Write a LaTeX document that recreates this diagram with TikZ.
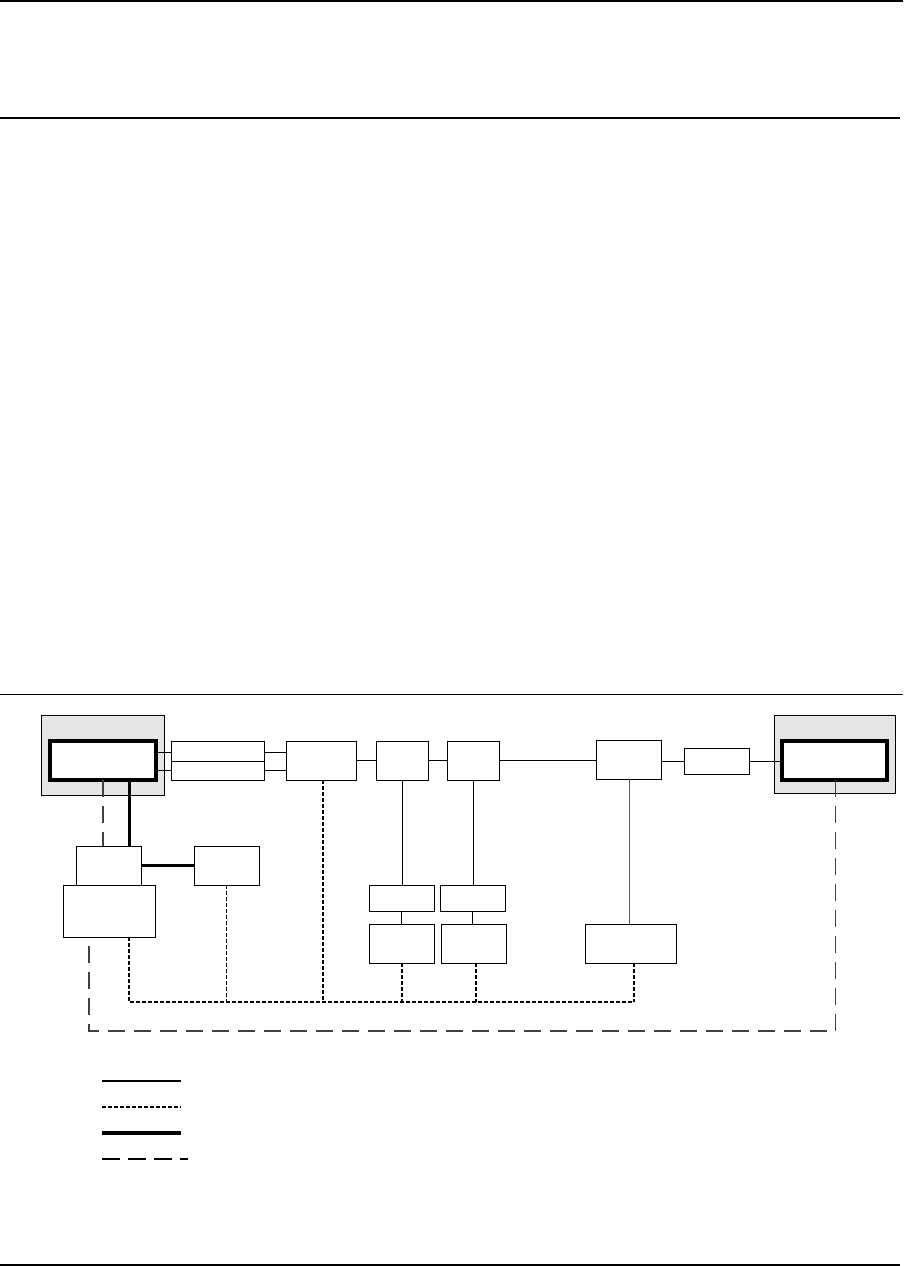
\documentclass[tikz,border=0pt]{standalone}
\begin{document}
\begin{tikzpicture}[x=1pt,y=-1pt,
  box/.style={draw=black,line width=1pt,fill=white,anchor=north west,inner sep=0pt,outer sep=0pt},
  grayb/.style={box,fill=black!10},
  thickb/.style={box,line width=3.5pt},
  thin/.style={line width=1pt},
  heavy/.style={line width=3pt},
  sdash/.style={line width=1.2pt,dash pattern=on 3.5pt off 2.5pt},
  sdashb/.style={line width=2pt,dash pattern=on 3.5pt off 2.5pt},
  ldash/.style={line width=1.2pt,draw=black!75,dash pattern=on 17pt off 9pt},
  rule/.style={line width=1pt}]
\useasboundingbox (0,0) rectangle (903,1266);
% page rules
\draw[rule,line width=2.5pt] (0,1) -- (903,1);
\draw[rule,line width=1.3pt] (0,118) -- (900,118);
\draw[rule] (0,694) -- (903,694);
\draw[rule,line width=1.5pt] (0,1265) -- (900,1265);
% nodes
\node[grayb,minimum width=123pt,minimum height=80pt] (LG) at (41,715) {};
\node[thickb,minimum width=106pt,minimum height=39pt] (LI) at (50,741) {};
\node[box,minimum width=93pt,minimum height=20pt] (S1) at (171,741) {};
\node[box,minimum width=93pt,minimum height=19pt] (S2) at (171,761) {};
\node[box,minimum width=70pt,minimum height=39pt] (B) at (286,741) {};
\node[box,minimum width=52pt,minimum height=39pt] (C) at (376,741) {};
\node[box,minimum width=52pt,minimum height=39pt] (D) at (447,741) {};
\node[box,minimum width=65pt,minimum height=39pt] (E) at (596,740) {};
\node[box,minimum width=65pt,minimum height=26pt] (F) at (684,748) {};
\node[grayb,minimum width=121pt,minimum height=78pt] (RG) at (774,715) {};
\node[thickb,minimum width=105pt,minimum height=39pt] (RI) at (782,741) {};
\node[box,minimum width=65pt,minimum height=39pt] (H) at (76,846) {};
\node[box,minimum width=92pt,minimum height=52pt] (I) at (63,885) {};
\node[box,minimum width=65pt,minimum height=39pt] (J) at (194,846) {};
\node[box,minimum width=65pt,minimum height=26pt] (K1) at (369,885) {};
\node[box,minimum width=65pt,minimum height=26pt] (K2) at (440,885) {};
\node[box,minimum width=65pt,minimum height=39pt] (L1) at (369,924) {};
\node[box,minimum width=65pt,minimum height=39pt] (L2) at (441,924) {};
\node[box,minimum width=91pt,minimum height=39pt] (M) at (585,924) {};
% solid connectors
\draw[thin] ([yshift=-1.5pt]LI.east |- S1) -- ([yshift=-1.5pt]S1.west);
\draw[thin] (LI.east |- S2) -- (S2.west);
\draw[thin] ([yshift=-1.5pt]S1.east) -- ([yshift=-1.5pt]S1.east -| B.west);
\draw[thin] (S2.east) -- (S2.east -| B.west);
\draw[thin] (B) -- (C);
\draw[thin] (C) -- (D);
\draw[thin] (D.east) -- (D.east -| E.west);
\draw[thin] ([yshift=-1.5pt]E.east) -- ([yshift=-1.5pt]E.east -| F.west);
\draw[thin] (F.east) -- (F.east -| RI.west);
\draw[thin] (C.south) -- (C.south |- K1.north);
\draw[thin] (K1) -- (L1);
\draw[thin] (D.south) -- (D.south |- K2.north);
\draw[thin] (K2.south) -- (K2.south |- L2.north);
\draw[line width=1.2pt,draw=black!65] ([xshift=1pt]E.south) -- ([xshift=1pt]E.south |- M.north);
% heavy connectors
\draw[heavy] ([xshift=26pt]LI.south) -- ([xshift=26pt]LI.south |- H.north);
\draw[heavy] (H.east) -- (J.west);
% bus (short dashes)
\coordinate (busR) at (634,1002);
\draw[sdash] ([xshift=20pt]I.south) |- (busR);
\draw[sdashb] ([xshift=20pt]I.south) -- ++(0,65);
\draw[sdash] (J.south) -- (J.south |- busR);
\draw[sdashb] ([xshift=1.5pt]B.south) -- ([xshift=1.5pt]B.south |- busR);
\draw[sdashb] (L1.south) -- (L1.south |- busR);
\draw[sdashb] ([xshift=2.5pt]L2.south) -- ([xshift=2.5pt]L2.south |- busR);
\draw[sdashb] ([xshift=3.5pt]M.south) -- (busR);
% long dashes
\draw[ldash] (LI.south) -- (LI.south |- H.north);
\draw[ldash] ([xshift=1pt]RI.south) -- ++(0,251) -| ([xshift=-20pt]I.south);
% legend
\coordinate (a1) at (102,1081); \coordinate (a2) at (181,1081);
\coordinate (b1) at (102,1107); \coordinate (b2) at (181,1107);
\coordinate (c1) at (102,1133); \coordinate (c2) at (181,1133);
\coordinate (d1) at (102,1159); \coordinate (d2) at (188,1159);
\draw[line width=1.5pt] (a1) -- (a2);
\draw[sdashb] (b1) -- (b2);
\draw[line width=3.2pt] (c1) -- (c2);
\draw[line width=1.3pt,dash pattern=on 18pt off 8pt] (d1) -- (d2);
\end{tikzpicture}
\end{document}
